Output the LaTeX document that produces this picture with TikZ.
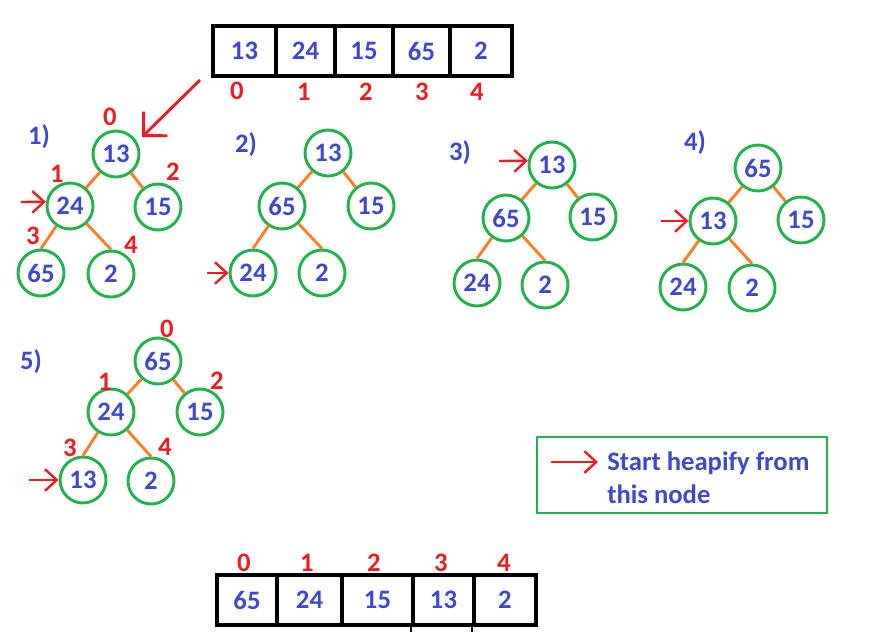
\documentclass[tikz,border=0pt]{standalone}
\usepackage{fontspec}
\setmainfont{Carlito}
\usetikzlibrary{arrows.meta}
\definecolor{numblue}{RGB}{63,72,204}
\definecolor{idxred}{RGB}{237,28,36}
\definecolor{ringgreen}{RGB}{34,177,76}
\definecolor{edgeorange}{RGB}{255,127,39}
\newcommand\bignum{\fontsize{20}{24.75}\selectfont\bfseries}
\tikzset{
  hnode/.style={circle, draw=ringgreen, line width=2.2pt, minimum size=34.5pt, inner sep=0pt, text=numblue, font=\bignum},
  cell/.style={draw=black, line width=2.4pt, minimum height=37.5pt, inner sep=0pt, text=numblue, font=\bignum},
  idx/.style={text=idxred, font=\bignum, inner sep=0pt},
  steplbl/.style={text=numblue, font=\bignum, inner sep=0pt},
  edge/.style={draw=edgeorange, line width=2.2pt},
  ptr/.style={draw=idxred, line width=1.8pt, -{Straight Barb[angle=85:12pt]}},
  bigptr/.style={draw=idxred, line width=2.2pt, -{Straight Barb[angle=90:18pt]}}
}

\begin{document}
\begin{tikzpicture}[x=0.75pt, y=-0.75pt]
		%%%%% START %%%%%
		\useasboundingbox (0, 0) rectangle (874, 643);
		
		% input array
		\node[cell, minimum width=47.25pt] (in0) at (244.5, 51) {13};
		\node[cell, minimum width=44.25pt] (in1) at (305.5, 51) {24};
		\node[cell, minimum width=43.5pt] (in2) at (364, 51) {15};
		\node[cell, minimum width=42.75pt] (in3) at (421.5, 51) {65};
		\node[cell, minimum width=46.5pt] (in4) at (481, 51) {2};
		\node[idx] (ii0) at (237, 91) {0};
		\node[idx] (ii1) at (304, 92) {1};
		\node[idx] (ii2) at (366, 92) {2};
		\node[idx] (ii3) at (422, 92) {3};
		\node[idx] (ii4) at (477, 92) {4};
		
		\coordinate (src) at (200, 80);
		\coordinate (tip) at (142, 137);
		\draw[bigptr] (src) -- (tip);
		
		% 1)
		\node[steplbl] (s1) at (39, 137) {1)};
		\node[hnode] (t1a) at (116, 154) {13};
		\node[hnode] (t1b) at (70, 206) {24};
		\node[hnode] (t1c) at (158, 207) {15};
		\node[hnode] (t1d) at (41, 273) {65};
		\node[hnode] (t1e) at (111, 274) {2};
		\draw[edge] (t1a) -- (t1b);
		\draw[edge] (t1a) -- (t1c);
		\draw[edge] (t1b) -- (t1d.north);
		\draw[edge] (t1b) -- (t1e.north);
		\node[idx] (k1a) at (110, 117) {0};
		\node[idx] (k1b) at (57, 174) {1};
		\node[idx] (k1c) at (173, 172) {2};
		\node[idx] (k1d) at (33, 236) {3};
		\node[idx] (k1e) at (131, 245) {4};
		\coordinate (p1) at (21, 202);
		\draw[ptr] (p1) -- (t1b.170);
		
		% 2)
		\node[steplbl] (s2) at (246, 145) {2)};
		\node[hnode] (t2a) at (328, 153) {13};
		\node[hnode] (t2b) at (282, 206) {65};
		\node[hnode] (t2c) at (371, 206) {15};
		\node[hnode] (t2d) at (253, 273) {24};
		\node[hnode] (t2e) at (322, 273) {2};
		\draw[edge] (t2a) -- (t2b);
		\draw[edge] (t2a) -- (t2c);
		\draw[edge] (t2b) -- (t2d.north);
		\draw[edge] (t2b) -- (t2e.north);
		\coordinate (p2) at (207, 273);
		\draw[ptr] (p2) -- (t2d.west);
		
		% 3)
		\node[steplbl] (s3) at (460, 153) {3)};
		\node[hnode] (t3a) at (552, 165) {13};
		\node[hnode] (t3b) at (506, 218) {65};
		\node[hnode] (t3c) at (593, 217) {15};
		\node[hnode] (t3d) at (477, 283) {24};
		\node[hnode] (t3e) at (545, 285) {2};
		\draw[edge] (t3a) -- (t3b);
		\draw[edge] (t3a) -- (t3c);
		\draw[edge] (t3b) -- (t3d.north);
		\draw[edge] (t3b) -- (t3e.north);
		\coordinate (p3) at (499, 161);
		\draw[ptr] (p3) -- (t3a.170);
		
		% 4)
		\node[steplbl] (s4) at (695, 143) {4)};
		\node[hnode] (t4a) at (758, 168) {65};
		\node[hnode] (t4b) at (713, 221) {13};
		\node[hnode] (t4c) at (801, 220) {15};
		\node[hnode] (t4d) at (683, 287) {24};
		\node[hnode] (t4e) at (752, 288) {2};
		\draw[edge] (t4a) -- (t4b);
		\draw[edge] (t4a) -- (t4c);
		\draw[edge] (t4b) -- (t4d.north);
		\draw[edge] (t4b) -- (t4e.north);
		\coordinate (p4) at (661, 221);
		\draw[ptr] (p4) -- (t4b.west);
		
		% 5)
		\node[steplbl] (s5) at (31, 362) {5)};
		\node[hnode] (t5a) at (158, 361) {65};
		\node[hnode] (t5b) at (111, 412) {24};
		\node[hnode] (t5c) at (200, 412) {15};
		\node[hnode] (t5d) at (83, 480) {13};
		\node[hnode] (t5e) at (151, 481) {2};
		\draw[edge] (t5a) -- (t5b);
		\draw[edge] (t5a) -- (t5c);
		\draw[edge] (t5b) -- (t5d.north);
		\draw[edge] (t5b) -- (t5e.north);
		\node[idx] (k5a) at (167, 329) {0};
		\node[idx] (k5b) at (105, 382) {1};
		\node[idx] (k5c) at (217, 381) {2};
		\node[idx] (k5d) at (70, 448) {3};
		\node[idx] (k5e) at (165, 447) {4};
		\coordinate (p5) at (29, 480);
		\draw[ptr] (p5) -- (t5d.west);
		
		% legend
		\node[draw=ringgreen, line width=2.2pt, minimum width=217.5pt, minimum height=57pt] (legend) at (682, 475) {};
		\node[text=numblue, font=\bignum, align=left, anchor=base west, inner sep=0pt] (legtext) at (607, 503) {Start heapify from\\this node};
		\coordinate (lg1) at (551, 462);
		\coordinate (lg2) at (598, 462);
		\draw[ptr] (lg1) -- (lg2);
		
		% output array
		\node[idx] (oi0) at (244, 563) {0};
		\node[idx] (oi1) at (307, 563) {1};
		\node[idx] (oi2) at (374, 563) {2};
		\node[idx] (oi3) at (441, 563) {3};
		\node[idx] (oi4) at (504, 563) {4};
		\node[cell, minimum width=45pt] (out0) at (247, 600) {65};
		\node[cell, minimum width=48.75pt] (out1) at (309.5, 600) {24};
		\node[cell, minimum width=53.25pt] (out2) at (377.5, 600) {15};
		\node[cell, minimum width=45.75pt] (out3) at (443.5, 600) {13};
		\node[cell, minimum width=46.5pt] (out4) at (505, 600) {2};
		\draw[line width=1.5pt] (out3.south west) -- ++(0, 5);
		\draw[line width=1.5pt] (out4.south west) -- ++(0, 5);
		
		%%%%% END %%%%%
\end{tikzpicture}
\end{document}
